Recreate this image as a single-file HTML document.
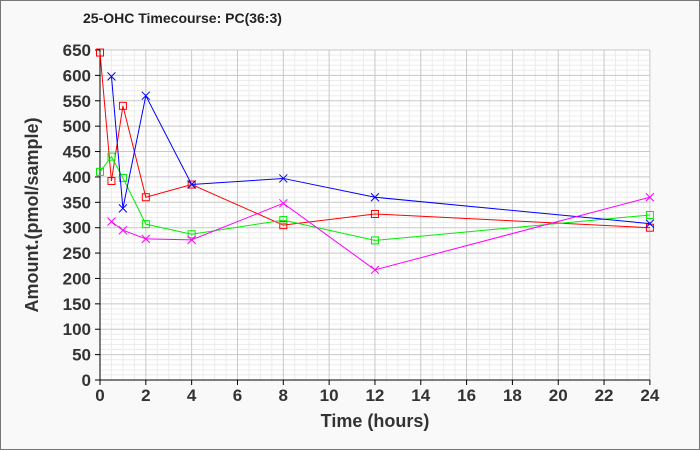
<!DOCTYPE html>
<html><head><meta charset="utf-8"><style>
body{margin:0;background:#f9f9f9}
svg{display:block;font-family:"Liberation Sans",Arial,sans-serif}
</style></head><body>
<svg width="700" height="450" viewBox="0 0 700 450">
<rect x="0.5" y="0.5" width="699" height="449" fill="#f9f9f9" stroke="#777"/>
<text x="83" y="23" font-size="14" font-weight="bold" fill="#222">25-OHC Timecourse: PC(36:3)</text>
<g id="grid"></g>
<g id="axes"></g>
<g id="data"></g>
<text x="375" y="427" font-size="18" font-weight="bold" fill="#333" text-anchor="middle">Time (hours)</text>
<text transform="translate(38,215) rotate(-90)" font-size="18" font-weight="bold" fill="#333" text-anchor="middle">Amount.(pmol/sample)</text>
</svg>
<script>
const X=t=>100+t*22.912, Y=v=>380-v*0.50769;
const ns="http://www.w3.org/2000/svg";
function el(p,n,a,txt){const e=document.createElementNS(ns,n);for(const k in a)e.setAttribute(k,a[k]);if(txt!==undefined)e.textContent=txt;p.appendChild(e);return e;}
const g=document.getElementById("grid"),ax=document.getElementById("axes"),d=document.getElementById("data");
el(g,"rect",{x:100,y:50,width:550,height:330,fill:"#fff"});
for(let t=0;t<=24;t+=0.5){if(t%2)el(g,"line",{x1:X(t),x2:X(t),y1:50,y2:380,stroke:"#ececec"});}
for(let v=0;v<=650;v+=10){if(v%50)el(g,"line",{x1:100,x2:650,y1:Y(v),y2:Y(v),stroke:"#ececec"});}
for(let t=0;t<=24;t+=2)el(g,"line",{x1:X(t),x2:X(t),y1:50,y2:380,stroke:"#c8c8c8"});
for(let v=0;v<=650;v+=50)el(g,"line",{x1:100,x2:650,y1:Y(v),y2:Y(v),stroke:"#c8c8c8"});
el(ax,"line",{x1:100,x2:100,y1:50,y2:380,stroke:"#000"});
el(ax,"line",{x1:100,x2:650,y1:380,y2:380,stroke:"#000"});
for(let v=0;v<=650;v+=50){el(ax,"line",{x1:95,x2:100,y1:Y(v),y2:Y(v),stroke:"#000"});el(ax,"text",{x:91,y:Y(v)+6,"font-size":17,"font-weight":"bold",fill:"#333","text-anchor":"end"},v);}
for(let t=0;t<=24;t+=2){el(ax,"line",{x1:X(t),x2:X(t),y1:380,y2:385,stroke:"#000"});el(ax,"text",{x:X(t),y:401,"font-size":17,"font-weight":"bold",fill:"#333","text-anchor":"middle"},t);}
const S=[
["#ff0000","sq",[[0,645],[0.5,392],[1,540],[2,360],[4,385],[8,305],[12,327],[24,300]]],
["#00ee00","sq",[[0,410],[0.5,440],[1,398],[2,307],[4,287],[8,315],[12,275],[24,325]]],
["#0000ff","x",[[0.5,598],[1,338],[2,560],[4,385],[8,397],[12,360],[24,308]]],
["#ff00ff","x",[[0.5,312],[1,295],[2,278],[4,276],[8,348],[12,217],[24,360]]]];
for(const [c,m,p] of S){
el(d,"polyline",{points:p.map(q=>X(q[0])+","+Y(q[1])).join(" "),fill:"none",stroke:c,"stroke-width":1});
for(const q of p){const x=X(q[0]),y=Y(q[1]);
if(m=="sq")el(d,"rect",{x:x-3.5,y:y-3.5,width:7,height:7,fill:"none",stroke:c});
else el(d,"path",{d:`M${x-4} ${y-4}L${x+4} ${y+4}M${x-4} ${y+4}L${x+4} ${y-4}`,stroke:c});}}
</script>
</body></html>
